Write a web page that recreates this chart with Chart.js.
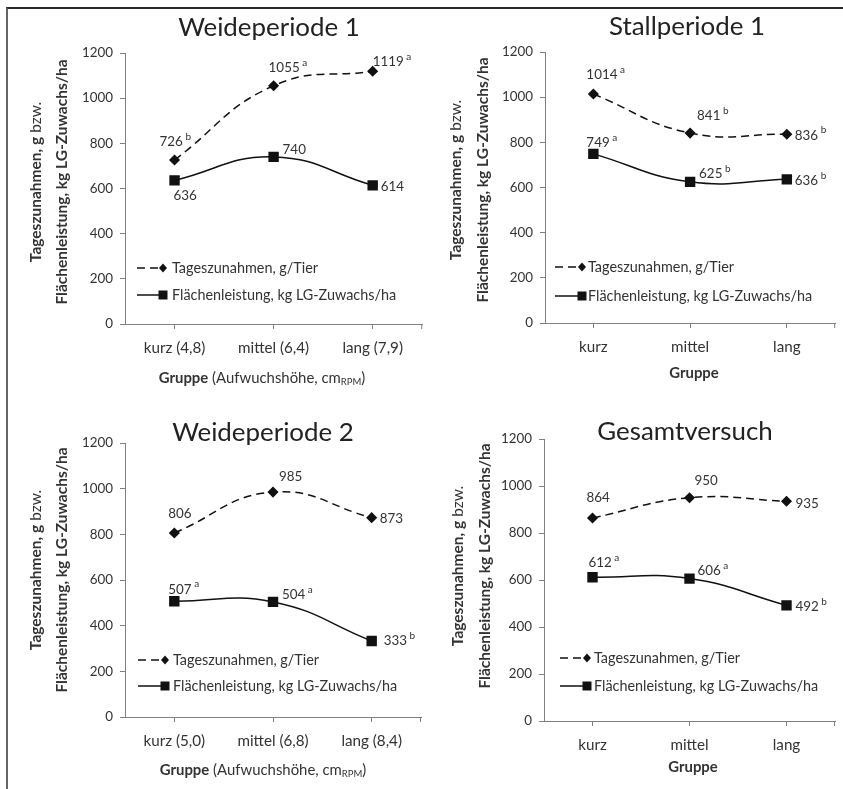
<!DOCTYPE html>
<html>
<head>
<meta charset="utf-8">
<script src="https://cdn.jsdelivr.net/npm/chart.js@4.4.1/dist/chart.umd.min.js"></script>
<style>
  body { margin: 0; background: #fff; }
  #wrap { position: relative; width: 843px; height: 789px; overflow: hidden; }
  #frame { position: absolute; left: 6px; top: 7px; width: 850px; height: 800px;
           border-left: 2px solid #666; border-top: 2px solid #2a2a2a; }
  canvas { position: absolute; }
</style>
</head>
<body>
<div id="wrap">
  <div id="frame"></div>
  <canvas id="c1"></canvas>
  <canvas id="c2"></canvas>
  <canvas id="c3"></canvas>
  <canvas id="c4"></canvas>
</div>
<script>
// Daten
const categoriesP1 = ['kurz (4,8)', 'mittel (6,4)', 'lang (7,9)'];
const categoriesP2 = ['kurz', 'mittel', 'lang'];
const categoriesP3 = ['kurz (5,0)', 'mittel (6,8)', 'lang (8,4)'];
const categoriesP4 = ['kurz', 'mittel', 'lang'];

const tagesP1 = [726, 1055, 1119];
const flaecheP1 = [636, 740, 614];
const tagesSigP1 = ['b', 'a', 'a'];
const flaecheSigP1 = ['', '', ''];

const tagesP2 = [1014, 841, 836];
const flaecheP2 = [749, 625, 636];
const tagesSigP2 = ['a', 'b', 'b'];
const flaecheSigP2 = ['a', 'b', 'b'];

const tagesP3 = [806, 985, 873];
const flaecheP3 = [507, 504, 333];
const tagesSigP3 = ['', '', ''];
const flaecheSigP3 = ['a', 'a', 'b'];

const tagesP4 = [864, 950, 935];
const flaecheP4 = [612, 606, 492];
const tagesSigP4 = ['', '', ''];
const flaecheSigP4 = ['a', 'a', 'b'];

const yMin = 0, yMax = 1200, yStep = 200;

const legendTages = 'Tageszunahmen, g/Tier';
const legendFlaeche = 'Flächenleistung, kg LG-Zuwachs/ha';

const FONT = 'Lato, "Open Sans", sans-serif';
const TXT = '#333333';

// Schriftgrößen so wählen, dass die Textbreiten zur Vorlage passen
const mctx = document.createElement('canvas').getContext('2d');
function fit(text, bold, target) {
  mctx.font = (bold ? 'bold ' : '') + '100px ' + FONT;
  return Math.round(100 * target / mctx.measureText(text).width * 10) / 10;
}
const SZ = {
  title: fit('Weideperiode 1', false, 182),
  legend: fit(legendFlaeche, false, 225),
  yTitle: fit('Flächenleistung, kg LG-Zuwachs/ha', true, 245),
  tick: fit('1200', false, 31),
  xTick: fit('mittel (6,4)', false, 71),
  label: fit('1055', false, 31)
};
SZ.xTitle = fit('Gruppe (Aufwuchshöhe, cm)', false, 185);

// Layout der vier Felder (Canvas-Koordinaten)
const panels = [
  { id: 'c1', left: 0, top: 0, w: 430, h: 390, area: { l: 125, t: 53, r: 428, b: 324 },
    title: 'Weideperiode 1', titleX: 269, titleY: 28,
    cats: categoriesP1, tages: tagesP1, flaeche: flaecheP1, tSig: tagesSigP1, fSig: flaecheSigP1,
    tOff: [[-15, -18], [-5, -18], [0, -10]], fOff: [[-1, 15], [9, -7], [8, 1]],
    yT: { x1: 36, x2: 62, y: 182 }, xT: { x: 262, y: 378, long: true },
    leg: { x0: 137, x1: 163, tx: 172, y1: 268, y2: 295 } },
  { id: 'c2', left: 420, top: 0, w: 423, h: 390, area: { l: 125, t: 52, r: 423, b: 323 },
    title: 'Stallperiode 1', titleX: 267, titleY: 27,
    cats: categoriesP2, tages: tagesP2, flaeche: flaecheP2, tSig: tagesSigP2, fSig: flaecheSigP2,
    tOff: [[-7, -19], [7, -17], [8, 1]], fOff: [[-7, -11], [9, -8], [8, 1]],
    yT: { x1: 36, x2: 63, y: 180 }, xT: { x: 274, y: 373, long: false },
    leg: { x0: 135, x1: 162, tx: 168, y1: 267, y2: 296 } },
  { id: 'c3', left: 0, top: 390, w: 430, h: 399, area: { l: 125, t: 53, r: 421, b: 327 },
    title: 'Weideperiode 2', titleX: 263, titleY: 43,
    cats: categoriesP3, tages: tagesP3, flaeche: flaecheP3, tSig: tagesSigP3, fSig: flaecheSigP3,
    tOff: [[-6, -19], [6, -15], [8, 1]], fOff: [[-6, -12], [9, -7], [12, 0]],
    yT: { x1: 36, x2: 62, y: 180 }, xT: { x: 263, y: 380, long: true },
    leg: { x0: 138, x1: 165, tx: 173, y1: 270, y2: 296 } },
  { id: 'c4', left: 420, top: 390, w: 423, h: 399, area: { l: 124, t: 49, r: 415, b: 331 },
    title: 'Gesamtversuch', titleX: 265, titleY: 42,
    cats: categoriesP4, tages: tagesP4, flaeche: flaecheP4, tSig: tagesSigP4, fSig: flaecheSigP4,
    tOff: [[-6, -20], [5, -17], [9, 2]], fOff: [[-4, -14], [8, -8], [9, 1]],
    yT: { x1: 38, x2: 65, y: 176 }, xT: { x: 273, y: 377, long: false },
    leg: { x0: 140, x1: 167, tx: 174, y1: 268, y2: 296 } }
];

// Text aus Teilen (fett / normal / hochgestellt) zeichnen
function richWidth(ctx, parts) {
  let w = 0;
  parts.forEach(p => {
    ctx.font = (p.bold ? 'bold ' : '') + p.size + 'px ' + FONT;
    w += ctx.measureText(p.text).width;
  });
  return w;
}
function drawRich(ctx, parts, x, y, align) {
  const w = richWidth(ctx, parts);
  let cx = align === 'center' ? x - w / 2 : x;
  ctx.textBaseline = 'middle';
  ctx.textAlign = 'left';
  parts.forEach(p => {
    ctx.font = (p.bold ? 'bold ' : '') + p.size + 'px ' + FONT;
    ctx.fillText(p.text, cx, y + (p.dy || 0));
    cx += ctx.measureText(p.text).width;
  });
}

function drawMarker(ctx, type, x, y) {
  ctx.fillStyle = '#111';
  ctx.beginPath();
  if (type === 'diamond') {
    ctx.moveTo(x, y - 4.5); ctx.lineTo(x + 4, y); ctx.lineTo(x, y + 4.5); ctx.lineTo(x - 4, y);
  } else {
    ctx.rect(x - 4.5, y - 4.5, 9, 9);
  }
  ctx.fill();
}

function makeDecor(p) {
  return {
    id: 'decor',
    afterDraw(chart) {
      const ctx = chart.ctx;
      const a = chart.chartArea;
      ctx.save();

      // Titel
      ctx.font = SZ.title + 'px ' + FONT;
      ctx.fillStyle = '#222';
      ctx.textAlign = 'center';
      ctx.textBaseline = 'middle';
      ctx.fillText(p.title, p.titleX, p.titleY);

      // Endstrich der x-Achse
      ctx.strokeStyle = '#808080';
      ctx.lineWidth = 1;
      ctx.beginPath();
      ctx.moveTo(a.right - 0.5, a.bottom);
      ctx.lineTo(a.right - 0.5, a.bottom + 5);
      ctx.stroke();

      // y-Achsentitel (zweizeilig, gedreht)
      ctx.fillStyle = TXT;
      ctx.save();
      ctx.translate(p.yT.x1, p.yT.y);
      ctx.rotate(-Math.PI / 2);
      drawRich(ctx, [{ text: 'Tageszunahmen, g', bold: true, size: SZ.yTitle }, { text: ' bzw.', size: SZ.yTitle }], 0, 0, 'center');
      ctx.restore();
      ctx.save();
      ctx.translate(p.yT.x2, p.yT.y);
      ctx.rotate(-Math.PI / 2);
      drawRich(ctx, [{ text: 'Flächenleistung, kg LG-Zuwachs/ha', bold: true, size: SZ.yTitle }], 0, 0, 'center');
      ctx.restore();

      // x-Achsentitel
      if (p.xT.long) {
        drawRich(ctx, [{ text: 'Gruppe', bold: true, size: SZ.xTitle }, { text: ' (Aufwuchshöhe, cm', size: SZ.xTitle },
          { text: 'RPM', size: 9.5, dy: 4 }, { text: ')', size: SZ.xTitle }], p.xT.x, p.xT.y, 'center');
      } else {
        drawRich(ctx, [{ text: 'Gruppe', bold: true, size: SZ.xTitle }], p.xT.x, p.xT.y, 'center');
      }

      // Legende
      const L = p.leg;
      ctx.strokeStyle = '#111';
      ctx.lineWidth = 1.5;
      ctx.setLineDash([8, 5]);
      ctx.beginPath(); ctx.moveTo(L.x0, L.y1); ctx.lineTo(L.x1, L.y1); ctx.stroke();
      ctx.setLineDash([]);
      ctx.beginPath(); ctx.moveTo(L.x0, L.y2); ctx.lineTo(L.x1, L.y2); ctx.stroke();
      drawMarker(ctx, 'diamond', L.x1, L.y1);
      drawMarker(ctx, 'square', L.x1, L.y2);
      ctx.fillStyle = TXT;
      drawRich(ctx, [{ text: legendTages, size: SZ.legend }], L.tx, L.y1, 'left');
      drawRich(ctx, [{ text: legendFlaeche, size: SZ.legend }], L.tx, L.y2, 'left');

      // Datenbeschriftungen
      const sets = [[p.tages, p.tSig, p.tOff], [p.flaeche, p.fSig, p.fOff]];
      sets.forEach((s, di) => {
        const meta = chart.getDatasetMeta(di);
        meta.data.forEach((pt, i) => {
          const parts = [{ text: String(s[0][i]), size: SZ.label }];
          if (s[1][i]) parts.push({ text: ' ' + s[1][i], size: 10, dy: -5 });
          drawRich(ctx, parts, pt.x + s[2][i][0], pt.y + s[2][i][1], 'left');
        });
      });
      ctx.restore();
    }
  };
}

panels.forEach(p => {
  const cv = document.getElementById(p.id);
  cv.style.left = p.left + 'px';
  cv.style.top = p.top + 'px';
  cv.width = p.w; cv.height = p.h;
  cv.style.width = p.w + 'px'; cv.style.height = p.h + 'px';

  new Chart(cv.getContext('2d'), {
    type: 'line',
    data: {
      labels: p.cats,
      datasets: [{
        label: legendTages,
        data: p.tages,
        borderColor: '#111',
        backgroundColor: '#111',
        borderWidth: 1.5,
        borderDash: [8, 5],
        pointStyle: 'rectRot',
        pointRadius: 4.5,
        tension: 0.45,
        fill: false
      }, {
        label: legendFlaeche,
        data: p.flaeche,
        borderColor: '#111',
        backgroundColor: '#111',
        borderWidth: 1.5,
        pointStyle: 'rect',
        pointRadius: 6.3,
        tension: 0.45,
        fill: false
      }]
    },
    options: {
      responsive: false,
      animation: false,
      layout: { padding: { top: p.area.t, right: p.w - p.area.r, left: 0, bottom: 0 } },
      plugins: { legend: { display: false }, tooltip: { enabled: false } },
      scales: {
        x: {
          offset: true,
          grid: { display: true, drawOnChartArea: false, drawTicks: true, tickLength: 5, color: '#808080', offset: false },
          border: { color: '#808080', width: 1 },
          ticks: { color: TXT, font: { family: FONT, size: SZ.xTick }, padding: 10, maxRotation: 0, autoSkip: false },
          afterFit: s => { s.height = p.h - p.area.b; }
        },
        y: {
          min: yMin, max: yMax,
          grid: { display: true, drawOnChartArea: false, drawTicks: true, tickLength: 5, color: '#808080' },
          border: { color: '#808080', width: 1 },
          ticks: { stepSize: yStep, color: TXT, font: { family: FONT, size: SZ.tick }, padding: 7,
                   callback: v => String(v) },
          afterFit: s => { s.width = p.area.l; }
        }
      }
    },
    plugins: [makeDecor(p)]
  });
});
</script>
</body>
</html>
